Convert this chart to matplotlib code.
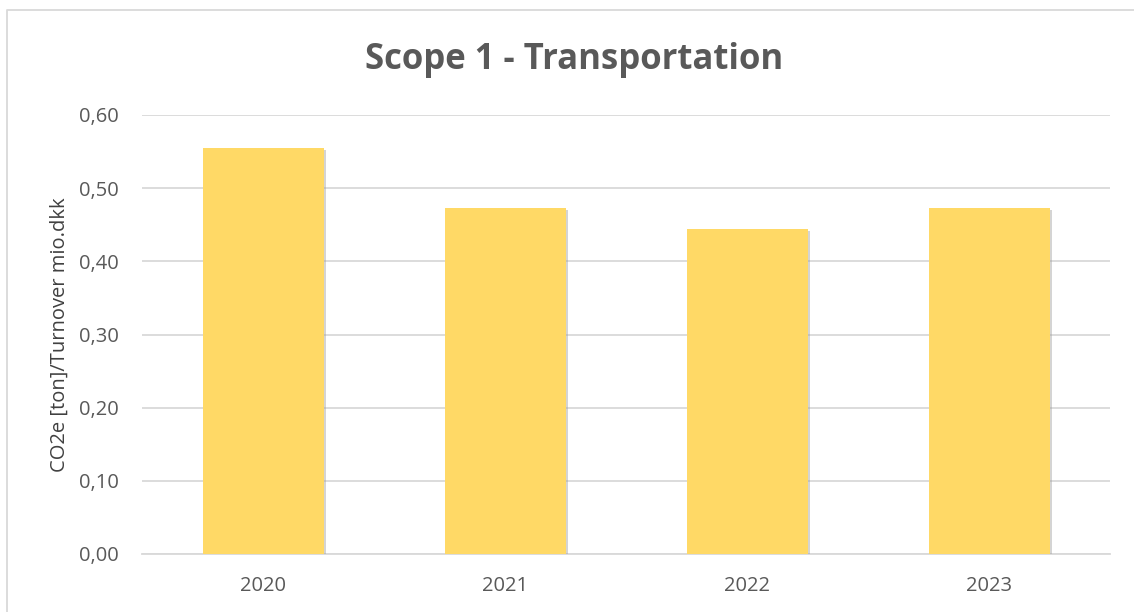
import matplotlib.pyplot as plt
import matplotlib.patheffects as pe
from matplotlib.lines import Line2D
import matplotlib.ticker as mticker

years = ["2020", "2021", "2022", "2023"]
values = [0.555, 0.473, 0.444, 0.473]
yticks = [0.0, 0.1, 0.2, 0.3, 0.4, 0.5, 0.6]

W, H = 1134, 612
fig = plt.figure(figsize=(W / 100, H / 100), dpi=100)
plt.rcParams['font.family'] = ['Open Sans', 'DejaVu Sans']

# plot area in pixels (left, top, right, bottom)
left, top, right, bottom = 142, 115, 1110, 554
ax = fig.add_axes([left / W, 1 - bottom / H, (right - left) / W, (bottom - top) / H])

bars = ax.bar(range(len(years)), values, width=0.5, color="#FFD966", zorder=3)
for b in bars:
    b.set_path_effects([pe.SimplePatchShadow(offset=(1.5, -1.5), shadow_rgbFace="#a0a0a0", alpha=0.45),
                        pe.Normal()])

ax.set_xlim(-0.5, len(years) - 0.5)
ax.set_ylim(0, 0.6)
ax.set_yticks(yticks)
ax.yaxis.set_major_formatter(mticker.FuncFormatter(lambda v, p: f"{v:.2f}".replace(".", ",")))
ax.set_xticks(range(len(years)))
ax.set_xticklabels(years)
ax.tick_params(axis="both", length=0, labelsize=14.5, colors="#595959")
ax.tick_params(axis="x", pad=16)
ax.tick_params(axis="y", pad=17)
ax.grid(axis="y", color="#D9D9D9", linewidth=1.3, zorder=0)
for s in ["top", "right", "left"]:
    ax.spines[s].set_visible(False)
ax.spines["bottom"].set_color("#D9D9D9")
ax.spines["bottom"].set_linewidth(1.3)

ax.set_ylabel("CO2e [ton]/Turnover mio.dkk", fontsize=14.5, color="#404040", labelpad=6)
fig.text(574 / W, 1 - 60 / H, "Scope 1 - Transportation", ha="center", va="center",
         fontsize=25, fontweight="bold", color="#595959")

# chart border (cropped at right and bottom)
fig.add_artist(Line2D([7 / W, 7 / W, 1.0], [0.0, 1 - 10 / H, 1 - 10 / H],
                      transform=fig.transFigure, color="#D9D9D9", linewidth=1.3))

fig.savefig("out.png", dpi=100)
